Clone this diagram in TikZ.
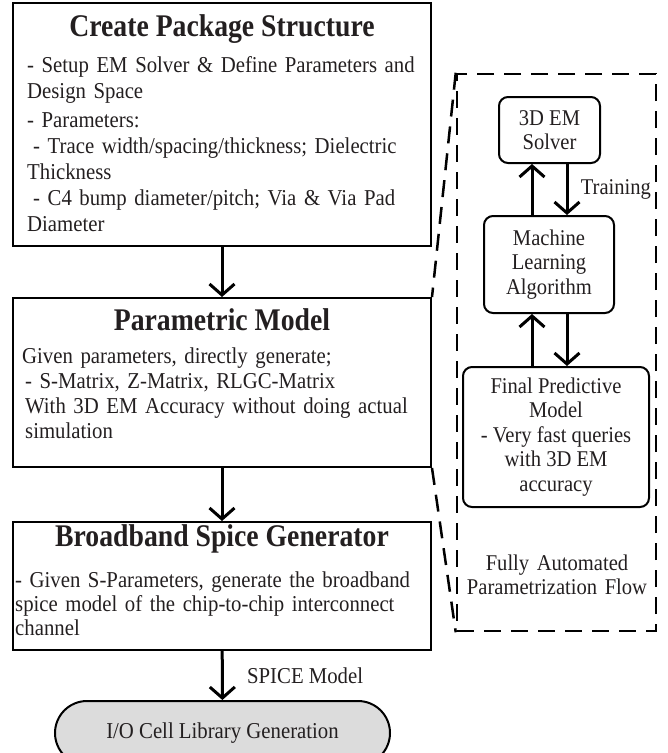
\documentclass[tikz,border=0pt]{standalone}
\usepackage{fontspec}
\setmainfont[FakeStretch=0.915,BoldFeatures={FakeStretch=0.88}]{Liberation Serif}
\usetikzlibrary{arrows.meta,positioning,shapes.misc}
\definecolor{ink}{RGB}{35,31,32}
\definecolor{termgray}{RGB}{220,220,220}
\begin{document}
\begin{tikzpicture}[x=1pt,y=-1pt,
  mainbox/.style={draw,line width=2pt,minimum width=418pt,inner sep=0pt},
  mlbox/.style={draw,line width=2pt,rounded corners=9pt,align=center,inner sep=0pt,
    font=\fontsize{22.5}{24.5}\selectfont,text=ink},
  ttl/.style={anchor=base,font=\fontsize{31.5}{34}\selectfont\bfseries,text=ink,inner sep=0pt},
  body/.style={anchor=base west,align=left,text width=405pt,inner sep=0pt,
    font=\fontsize{22.7}{25}\selectfont,text=ink},
  arr/.style={line width=3pt,-{Straight Barb[length=11pt,width=25pt]}},
  flowline/.style={line width=2.5pt,dash pattern=on 17pt off 10pt}]
\useasboundingbox (0,0) rectangle (668,753);

% main flow
\node[mainbox,minimum height=243pt] (pkg) at (222,124.5) {};
\node[ttl] (pkgt) at (222,36) {Create Package Structure};
\node[body,font=\fontsize{22.7}{26}\selectfont] (pkgb) at (27,72) {- Setup EM Solver \& Define Parameters and\\
Design Space\\[3pt]
- Parameters:\\
\hspace*{6pt}- Trace width/spacing/thickness; Dielectric\\
Thickness\\
\hspace*{6pt}- C4 bump diameter/pitch; Via \& Via Pad\\
Diameter};

\node[mainbox,minimum height=169pt] (param) at (222,382.5) {};
\node[ttl] (paramt) at (222,330) {Parametric Model};
\node[body] (paramb) at (22,363) {Given parameters, directly generate;\\
\hspace*{3pt}- S-Matrix, Z-Matrix, RLGC-Matrix\\
\hspace*{3pt}With 3D EM Accuracy without doing actual\\
\hspace*{3pt}simulation};

\node[mainbox,minimum height=128pt] (spice) at (222,586) {};
\node[ttl] (spicet) at (222,546) {Broadband Spice Generator};
\node[body,font=\fontsize{22.7}{24}\selectfont] (spiceb) at (15,587) {- Given S-Parameters, generate the broadband\\
spice model of the chip-to-chip interconnect\\
channel};

\node[draw,line width=2pt,fill=termgray,rounded rectangle,minimum width=335pt,minimum height=64pt,
  inner sep=0pt,text=ink,font=\fontsize{22.7}{25}\selectfont] (iocell) at (222.5,733) {I/O Cell Library Generation};

\draw[arr] (pkg) -- (param);
\draw[arr] (param) -- (spice);
\draw[arr] (spice) -- node[right=20pt,text=ink,font=\fontsize{22.7}{25}\selectfont]{SPICE Model} (iocell);

% automated flow
\node[draw,flowline,minimum width=199pt,minimum height=557pt,inner sep=0pt] (flow) at (556.5,352.5) {};
\draw[flowline] (flow.north west) -- (param.north east);
\draw[flowline] (param.south east) -- (flow.south west);

\node[mlbox,minimum width=101pt,minimum height=66pt] (solver) at (549.5,130) {3D EM\\Solver};
\node[mlbox,minimum width=130pt,minimum height=97pt] (ml) at (549,264.5) {Machine\\Learning\\Algorithm};
\node[mlbox,minimum width=186pt,minimum height=140pt] (final) at (556,437) {Final Predictive\\Model\\- Very fast queries\\with 3D EM\\accuracy};

\draw[arr] ([xshift=-17pt]ml.north) -- ([xshift=-17pt]ml.north |- solver.south);
\draw[arr] ([xshift=18pt]ml.north |- solver.south) -- node[right=9pt,text=ink,font=\fontsize{22.5}{24.5}\selectfont]{Training} ([xshift=18pt]ml.north);
\draw[arr] ([xshift=-17pt]ml.south |- final.north) -- ([xshift=-17pt]ml.south);
\draw[arr] ([xshift=18pt]ml.south) -- ([xshift=18pt]ml.south |- final.north);

\node[anchor=base,align=center,text width=200pt,inner sep=0pt,text=ink,font=\fontsize{22.5}{24}\selectfont] (flowt) at (557,570) {Fully Automated\\Parametrization Flow};

\end{tikzpicture}
\end{document}
